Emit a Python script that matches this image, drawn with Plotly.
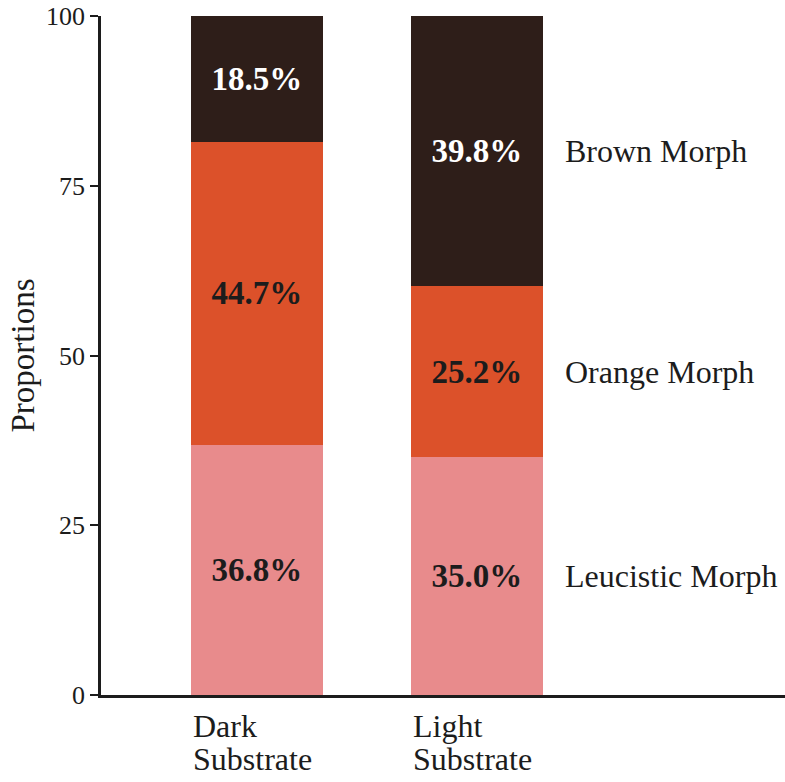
import plotly.graph_objects as go

categories = ["Dark Substrate", "Light Substrate"]
morphs = ["Leucistic Morph", "Orange Morph", "Brown Morph"]
leucistic = [36.8, 35.0]
orange = [44.7, 25.2]
brown = [18.5, 39.8]
y_ticks = [0, 25, 50, 75, 100]

series = [leucistic, orange, brown]
colors = ["#E88B8C", "#DC512A", "#2E1E19"]
text_colors = ["#1c1c1c", "#1c1c1c", "#ffffff"]

FONT = "Liberation Serif, Times New Roman, serif"
BAR_W = 0.6
xs = list(range(len(categories)))

fig = go.Figure()
for name, vals, col, tcol in zip(morphs, series, colors, text_colors):
    fig.add_trace(go.Bar(
        x=xs, y=vals, name=name, width=BAR_W,
        marker=dict(color=col, line=dict(width=0)),
        text=[f"{v:.1f}%" for v in vals],
        textposition="inside", insidetextanchor="middle",
        textangle=0, constraintext="none",
        textfont=dict(family=FONT, size=33, color=tcol, weight="bold"),
        showlegend=False,
    ))

annotations = []
# category labels (left-aligned under each bar)
for i, cat in enumerate(categories):
    for j, line in enumerate(cat.split(" ")):
        annotations.append(dict(
            x=i - BAR_W / 2, xref="x", xanchor="left",
            y=0, yref="paper", yanchor="top", yshift=-11 - 33 * j,
            text=line, showarrow=False, align="left",
            font=dict(family=FONT, size=32, color="#1c1c1c"),
        ))
# morph labels to the right of the last bar, at segment midpoints
last = len(categories) - 1
base = 0.0
for name, vals in zip(morphs, series):
    mid = base + vals[last] / 2
    base += vals[last]
    annotations.append(dict(
        x=last + BAR_W / 2 + 0.09, xref="x", xanchor="left",
        y=mid, yref="y", yanchor="middle",
        text=name, showarrow=False,
        font=dict(family=FONT, size=32, color="#1c1c1c"),
    ))

fig.update_layout(
    barmode="stack",
    width=785, height=782,
    margin=dict(l=101, r=0, t=16, b=87),
    paper_bgcolor="white", plot_bgcolor="white",
    font=dict(family=FONT, color="#1c1c1c"),
    annotations=annotations,
    xaxis=dict(
        range=[-0.709, 2.4], showticklabels=False, ticks="",
        showgrid=False, zeroline=False, automargin=False,
        showline=True, linecolor="#1c1c1c", linewidth=2.5,
    ),
    yaxis=dict(
        range=[0, 100], tickvals=y_ticks, ticktext=[str(t) for t in y_ticks],
        ticks="outside", ticklen=8, tickwidth=2, tickcolor="#1c1c1c",
        tickfont=dict(family=FONT, size=26, color="#1c1c1c"),
        ticklabeloverflow="allow", automargin=False,
        showgrid=False, zeroline=False,
        showline=True, linecolor="#1c1c1c", linewidth=2.5,
        title=dict(text="Proportions", standoff=2,
                   font=dict(family=FONT, size=33, color="#1c1c1c")),
    ),
)

fig.write_html(
    "out.html",
    config={"displayModeBar": False},
    post_script="document.body.style.margin='0';document.body.style.overflow='hidden';",
)
